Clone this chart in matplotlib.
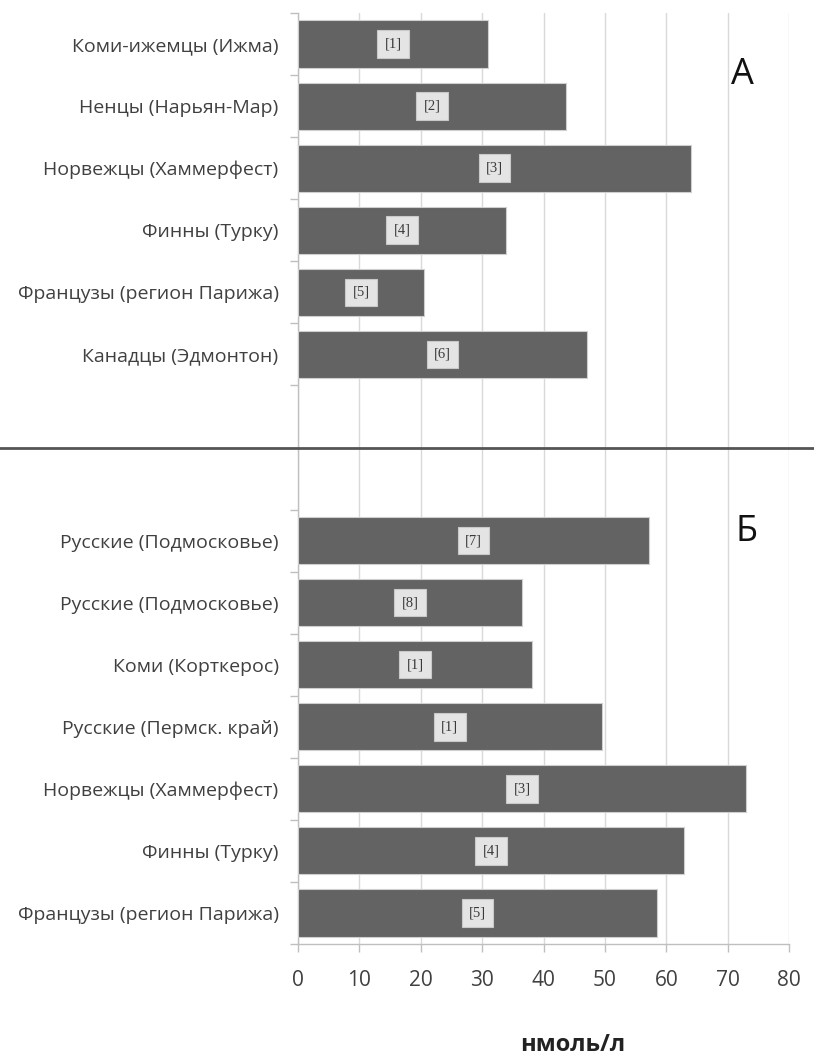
import matplotlib
matplotlib.use("Agg")
import matplotlib.pyplot as plt
from matplotlib.lines import Line2D
from matplotlib.ticker import FixedLocator

plt.rcParams['font.family'] = ['Open Sans', 'DejaVu Sans']

# Panel A: populations and mean values (нмоль/л)
top_labels = [
    "Коми-ижемцы (Ижма)",
    "Ненцы (Нарьян-Мар)",
    "Норвежцы (Хаммерфест)",
    "Финны (Турку)",
    "Французы (регион Парижа)",
    "Канадцы (Эдмонтон)",
]
top_values = [31.0, 43.7, 64.0, 33.9, 20.6, 47.1]
top_refs = ["[1]", "[2]", "[3]", "[4]", "[5]", "[6]"]

# Panel Б
bottom_labels = [
    "Русские (Подмосковье)",
    "Русские (Подмосковье)",
    "Коми (Корткерос)",
    "Русские (Пермск. край)",
    "Норвежцы (Хаммерфест)",
    "Финны (Турку)",
    "Французы (регион Парижа)",
]
bottom_values = [57.2, 36.5, 38.2, 49.5, 73.0, 62.9, 58.5]
bottom_refs = ["[7]", "[8]", "[1]", "[1]", "[3]", "[4]", "[5]"]

x_ticks = [0, 10, 20, 30, 40, 50, 60, 70, 80]
x_label = "нмоль/л"

gap_slots = 2
n_top = len(top_values)
n_bot = len(bottom_values)
n_slots = n_top + gap_slots + n_bot

W, H = 814, 1059
fig = plt.figure(figsize=(W / 100, H / 100), dpi=100)
ax = fig.add_axes([298 / W, 1 - 944 / H, (789 - 298) / W, (944 - 13) / H])

top_pos = [i + 0.5 for i in range(n_top)]
bot_pos = [n_top + gap_slots + i + 0.5 for i in range(n_bot)]

labels = top_labels + bottom_labels
values = top_values + bottom_values
refs = top_refs + bottom_refs
positions = top_pos + bot_pos

bar_color = '#636363'
ax.barh(positions, values, height=0.76, color=bar_color,
        edgecolor='#cfcfcf', linewidth=0.8, zorder=3)

for p, v, r in zip(positions, values, refs):
    ax.text(v / 2, p, r, ha='center', va='center', fontsize=10.5,
            family=['Liberation Serif', 'DejaVu Serif'], color='#3a3a3a', zorder=4,
            bbox=dict(boxstyle='square,pad=0.5', fc='#e4e4e4', ec='#c9c9c9', lw=0.8))

ax.set_xlim(0, 80)
ax.set_ylim(n_slots, 0)
ax.set_xticks(x_ticks)
ax.set_xticklabels([str(t) for t in x_ticks], fontsize=15, color='#404040')
ax.tick_params(axis='x', direction='out', length=6, width=1, color='#bfbfbf', pad=13)

ax.set_yticks(positions)
ax.set_yticklabels(labels, fontsize=14, color='#404040')
ax.tick_params(axis='y', which='major', length=0, pad=14)
boundaries = [i for i in range(n_slots + 1) if not (n_top < i < n_top + gap_slots)]
ax.yaxis.set_minor_locator(FixedLocator(boundaries))
ax.tick_params(axis='y', which='minor', direction='out', length=6, width=1, color='#bfbfbf')

ax.grid(axis='x', color='#d9d9d9', linewidth=1, zorder=0)
ax.set_axisbelow(True)
for s in ['top', 'right']:
    ax.spines[s].set_visible(False)
for s in ['left', 'bottom']:
    ax.spines[s].set_color('#bfbfbf')
    ax.spines[s].set_linewidth(1)

# Separator between panels
sep_y = 1 - 448 / H
fig.add_artist(Line2D([0, 1], [sep_y, sep_y], transform=fig.transFigure,
                      color='#555555', linewidth=2, zorder=10))

fig.text(742 / W, 1 - 75 / H, "А", fontsize=26, ha='center', va='center', color='#111111')
fig.text(747 / W, 1 - 532 / H, "Б", fontsize=26, ha='center', va='center', color='#111111')

fig.text(573 / W, 1 - 1045 / H, x_label, fontsize=17, fontweight='bold',
         ha='center', va='center', color='#222222')

fig.savefig("out.png", dpi=100, facecolor='white')
